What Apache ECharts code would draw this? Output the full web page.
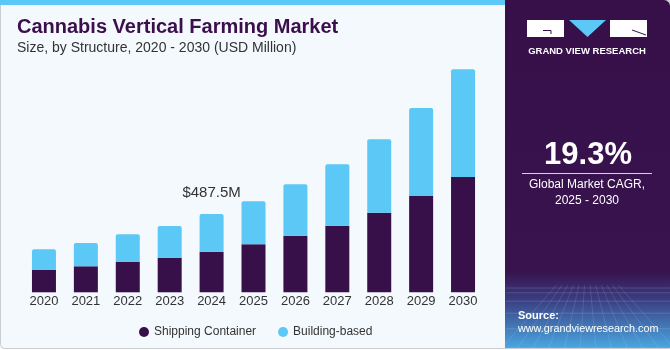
<!DOCTYPE html>
<html>
<head>
<meta charset="utf-8">
<script src="https://cdn.jsdelivr.net/npm/echarts@6/dist/echarts.min.js"></script>
<style>
  html, body { margin: 0; padding: 0; background: #fff; }
  #main { width: 670px; height: 350px; }
</style>
</head>
<body>
<div id="main"></div>
<script>
// data (USD Million)
var years = ['2020', '2021', '2022', '2023', '2024', '2025', '2026', '2027', '2028', '2029', '2030'];
var shippingContainer = [140.7, 162.0, 188.6, 215.4, 252.8, 298.8, 352.4, 414.7, 495.6, 599.6, 717.9];
var buildingBased = [127.0, 145.0, 172.5, 197.4, 234.7, 267.8, 320.0, 382.3, 457.0, 548.0, 670.5];
var markIndex = 4; // 2024 total shown above bar

var dark = '#37104a';
var light = '#5bc8f5';
var font = '"Liberation Sans", Arial, sans-serif';

// faint grid texture at the bottom of the side panel
var texture = [];
for (var i = 0; i < 6; i++) {
    var yy = 288 + i * i * 1.8 + i * 3;
    texture.push({ type: 'line', shape: { x1: 506, y1: yy, x2: 670, y2: yy },
        style: { stroke: 'rgba(200,220,255,0.18)', lineWidth: 1 }, z: -7 });
}
for (var j = 0; j < 12; j++) {
    var xb = 500 + j * 16;
    texture.push({ type: 'line', shape: { x1: 587 + (xb - 587) * 0.35, y1: 285, x2: xb, y2: 350 },
        style: { stroke: 'rgba(200,220,255,0.15)', lineWidth: 1 }, z: -7 });
}

var dom = document.getElementById('main');
var myChart = echarts.init(dom, null, { renderer: 'canvas' });

var option = {
    backgroundColor: '#ffffff',
    animation: false,
    textStyle: { fontFamily: font },
    graphic: [
        // light background with thin border
        { type: 'rect', left: 0, top: 0, z: -10,
          shape: { width: 669, height: 348, r: [0, 0, 0, 4] },
          style: { fill: '#f4f9fd', stroke: '#c9ccd0', lineWidth: 1 } },
        // top blue strip
        { type: 'rect', left: 0, top: 0, z: -9,
          shape: { width: 506, height: 5 },
          style: { fill: light } },
        // right panel
        { type: 'rect', left: 505, top: 0, z: -8,
          shape: { width: 165, height: 348, r: [0, 6, 0, 0] },
          style: {
              fill: new echarts.graphic.LinearGradient(0, 0, 0, 1, [
                  { offset: 0, color: '#37104a' },
                  { offset: 0.78, color: '#38134d' },
                  { offset: 0.86, color: '#3a3d80' },
                  { offset: 1, color: '#4aa6e0' }
              ])
          } }
    ].concat(texture).concat([
        // title
        { type: 'text', x: 17, y: 17,
          style: { text: 'Cannabis Vertical Farming Market', fill: '#3b0f4c',
                   font: 'bold 20px ' + font } },
        { type: 'text', x: 17, y: 41,
          style: { text: 'Size, by Structure, 2020 - 2030 (USD Million)', fill: '#333333',
                   font: '14px ' + font } },
        // logo
        { type: 'rect', shape: { x: 527, y: 20, width: 37, height: 17 }, style: { fill: '#ffffff' } },
        { type: 'polyline', shape: { points: [[543, 30.5], [551, 30.5], [551, 34]] },
          style: { stroke: dark, lineWidth: 1, fill: null } },
        { type: 'polygon', shape: { points: [[569, 20], [606, 20], [587.5, 37]] }, style: { fill: light } },
        { type: 'rect', shape: { x: 610, y: 20, width: 37, height: 17 }, style: { fill: '#ffffff' } },
        { type: 'polyline', shape: { points: [[632, 30], [646, 35]] },
          style: { stroke: dark, lineWidth: 1, fill: null } },
        { type: 'text', x: 587, y: 51,
          style: { text: 'GRAND VIEW RESEARCH', fill: '#ffffff', align: 'center', verticalAlign: 'middle',
                   font: 'bold 9.5px ' + font } },
        // CAGR
        { type: 'text', x: 588, y: 155,
          style: { text: '19.3%', fill: '#ffffff', align: 'center', verticalAlign: 'middle',
                   font: 'bold 31px ' + font } },
        { type: 'line', shape: { x1: 522, y1: 173.5, x2: 652, y2: 173.5 },
          style: { stroke: '#d8cfe0', lineWidth: 1 } },
        { type: 'text', x: 587, y: 185,
          style: { text: 'Global Market CAGR,', fill: '#ffffff', align: 'center', verticalAlign: 'middle',
                   font: '12px ' + font } },
        { type: 'text', x: 587, y: 201,
          style: { text: '2025 - 2030', fill: '#ffffff', align: 'center', verticalAlign: 'middle',
                   font: '12px ' + font } },
        // source
        { type: 'text', x: 518, y: 316,
          style: { text: 'Source:', fill: '#ffffff', verticalAlign: 'middle',
                   font: 'bold 11px ' + font } },
        { type: 'text', x: 518, y: 329.5,
          style: { text: 'www.grandviewresearch.com', fill: '#ffffff', verticalAlign: 'middle',
                   font: '10.8px ' + font } }
    ]),
    legend: {
        left: 134,
        top: 321,
        icon: 'circle',
        itemWidth: 10,
        itemHeight: 10,
        itemGap: 22,
        textStyle: { color: '#333333', fontSize: 12 },
        data: ['Shipping Container', 'Building-based']
    },
    grid: {
        left: 23,
        width: 461,
        top: 51.4,
        bottom: 57.7,
        containLabel: false
    },
    xAxis: {
        type: 'category',
        data: years,
        axisLine: { show: false },
        axisTick: { show: false },
        axisLabel: { color: '#333333', fontSize: 13, margin: 3 }
    },
    yAxis: {
        type: 'value',
        min: 0,
        max: 1500,
        show: false,
        splitLine: { show: false }
    },
    series: [
        {
            name: 'Shipping Container',
            type: 'bar',
            stack: 'total',
            barWidth: 24,
            itemStyle: { color: dark },
            data: shippingContainer
        },
        {
            name: 'Building-based',
            type: 'bar',
            stack: 'total',
            barWidth: 24,
            itemStyle: { color: light, borderRadius: [2, 2, 0, 0] },
            label: {
                show: true,
                position: 'top',
                distance: 14,
                color: '#333333',
                fontSize: 15,
                formatter: function (p) {
                    if (p.dataIndex !== markIndex) return '';
                    var total = shippingContainer[markIndex] + buildingBased[markIndex];
                    return '$' + total.toFixed(1) + 'M';
                }
            },
            data: buildingBased
        }
    ]
};

if (option && typeof option === "object") {
    myChart.setOption(option, true);
}
window.onresize = function () {
    myChart.resize();
};
</script>
</body>
</html>
